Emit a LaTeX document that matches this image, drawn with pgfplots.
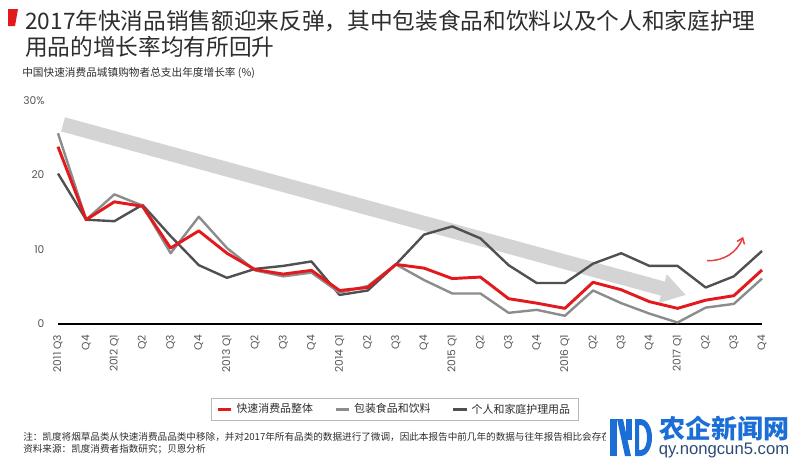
\documentclass[border=0pt]{standalone}
\usepackage{fontspec}
\usepackage{pgfplots}
\pgfplotsset{compat=1.18}
\usetikzlibrary{arrows.meta}
\newfontfamily\cjk{Noto Sans CJK SC}
\newfontfamily\geo{Poppins}
\newfontfamily\lib{Liberation Sans}
\definecolor{cred}{RGB}{226,26,30}
\definecolor{cgray}{RGB}{140,140,140}
\definecolor{cdark}{RGB}{80,80,80}
\definecolor{band}{RGB}{212,212,212}
\definecolor{txt}{RGB}{45,45,45}
\definecolor{tick}{RGB}{85,85,85}
\definecolor{wm}{RGB}{28,110,215}
\definecolor{wm2}{RGB}{45,75,120}
\begin{document}
\begin{tikzpicture}[x=0.75pt,y=-0.75pt]
\path[use as bounding box] (0,0) rectangle (800,465);
% title
\fill[cred] (8,9) -- (18,9) -- (15,26) -- (8,26) -- cycle;
\node[anchor=west,inner sep=0pt,text=txt,font=\cjk\fontsize{17}{20}\selectfont] at (25,21) {2017年快消品销售额迎来反弹，其中包装食品和饮料以及个人和家庭护理};
\node[anchor=west,inner sep=0pt,text=txt,font=\cjk\fontsize{17}{20}\selectfont] at (25,47) {用品的增长率均有所回升};
\node[anchor=west,inner sep=0pt,text=txt,font=\cjk\fontsize{8}{10}\selectfont] at (22,73) {中国快速消费品城镇购物者总支出年度增长率 (\%)};

\begin{axis}[
  at={(43.5pt,-243pt)}, anchor=south west,
  scale only axis, width=528pt, height=167.625pt,
  xmin=0, xmax=25, ymin=0, ymax=30,
  axis x line*=bottom, axis y line*=left,
  x axis line style={line width=2.2pt, black, -},
  y axis line style={draw=none},
  major tick length=0pt,
  xtick={0,...,25},
  xticklabels={2011 Q3,Q4,2012 Q1,Q2,Q3,Q4,2013 Q1,Q2,Q3,Q4,2014 Q1,Q2,Q3,Q4,2015 Q1,Q2,Q3,Q4,2016 Q1,Q2,Q3,Q4,2017 Q1,Q2,Q3,Q4},
  ytick={0,10,20,30}, yticklabels={0,10,20,30\%},
  xticklabel style={rotate=90, anchor=east, inner sep=0pt, font=\geo\fontsize{8}{10}\selectfont, text=tick},
  yticklabel style={anchor=east, inner sep=0pt, font=\geo\fontsize{8}{10}\selectfont, text=tick},
  xticklabel shift=8pt, yticklabel shift=10pt,
  clip=false,
  legend columns=3,
  legend image code/.code={\draw[#1] (0pt,0pt) -- (10pt,0pt);},
  legend style={at={(0.478,-0.331)}, anchor=north, draw=gray!55, line width=0.6pt,
    inner xsep=4pt, inner ysep=2pt, font=\cjk\fontsize{8.2}{10}\selectfont, text=txt,
    /tikz/every even column/.append style={column sep=14pt},
    /tikz/every odd column/.append style={column sep=1pt}},
]
\addlegendimage{cred, line width=2.2pt}
\addlegendentry{快速消费品整体}
\addlegendimage{cgray, line width=1.8pt}
\addlegendentry{包装食品和饮料}
\addlegendimage{cdark, line width=1.8pt}
\addlegendentry{个人和家庭护理用品}

\draw[band, line width=11pt, -{Triangle[width=21pt,length=18pt]}] (axis cs:0.18,26.8) -- (axis cs:22.3,3.9);

% personal & household care
\addplot[cdark, line width=1.8pt, line join=round, forget plot] coordinates {
(0,20.2) (1,14.0) (2,13.8) (3,16.0) (4,11.8) (5,7.9) (6,6.2) (7,7.4) (8,7.8) (9,8.4)
(10,3.9) (11,4.5) (12,8.0) (13,12.0) (14,13.1) (15,11.5) (16,7.9) (17,5.5) (18,5.5) (19,8.1)
(20,9.5) (21,7.8) (22,7.8) (23,4.9) (24,6.4) (25,9.8)};
% packaged food & beverage
\addplot[cgray, line width=1.8pt, line join=round, forget plot] coordinates {
(0,25.6) (1,14.0) (2,17.4) (3,15.9) (4,9.5) (5,14.4) (6,10.2) (7,7.2) (8,6.4) (9,6.9)
(10,4.2) (11,5.1) (12,8.0) (13,5.9) (14,4.1) (15,4.1) (16,1.5) (17,1.9) (18,1.1) (19,4.5)
(20,2.8) (21,1.4) (22,0.2) (23,2.2) (24,2.7) (25,6.1)};
% FMCG total
\addplot[cred, line width=2.2pt, line join=round, forget plot] coordinates {
(0,23.8) (1,14.0) (2,16.4) (3,15.8) (4,10.2) (5,12.5) (6,9.5) (7,7.3) (8,6.7) (9,7.2)
(10,4.5) (11,4.9) (12,8.0) (13,7.5) (14,6.1) (15,6.3) (16,3.4) (17,2.8) (18,2.1) (19,5.6)
(20,4.6) (21,3.0) (22,2.1) (23,3.2) (24,3.8) (25,7.25)};

\draw[cred!85, line width=1.1pt, -{Straight Barb[length=4pt,width=6pt]}] (axis cs:23.05,8.5) to[bend right=35] (axis cs:24.33,11.7);
\end{axis}

% footnotes
\node[anchor=west,inner sep=0pt,text=txt,font=\cjk\fontsize{7.2}{9}\selectfont] at (23,437) {注：凯度将烟草品类从快速消费品品类中移除，并对2017年所有品类的数据进行了微调，因此本报告中前几年的数据与往年报告相比会存在差异。};
\node[anchor=west,inner sep=0pt,text=txt,font=\cjk\fontsize{7.2}{9}\selectfont] at (23,449) {资料来源：凯度消费者指数研究；贝恩分析};

% watermark
\fill[white] (606,410) rectangle (800,465);
\fill[wm] (610,419) rectangle (617,456);
\fill[wm] (617,419) -- (623,419) -- (631,456) -- (625,456) -- cycle;
\fill[wm] (626,419) rectangle (632,440);
\fill[wm, even odd rule] (635,419) -- (640,419) .. controls (656,419) and (656,456) .. (640,456) -- (635,456) -- cycle
  (639,425) -- (641,425) .. controls (649,425) and (649,450) .. (641,450) -- (639,450) -- cycle;
\node[inner sep=0pt,text=wm,font=\cjk\bfseries\fontsize{19.5}{22}\selectfont] at (724,429) {农企新闻网};
\node[inner sep=0pt,text=wm2,font=\lib\fontsize{12.5}{14}\selectfont] at (724,450) {qy.nongcun5.com};
\end{tikzpicture}
\end{document}
